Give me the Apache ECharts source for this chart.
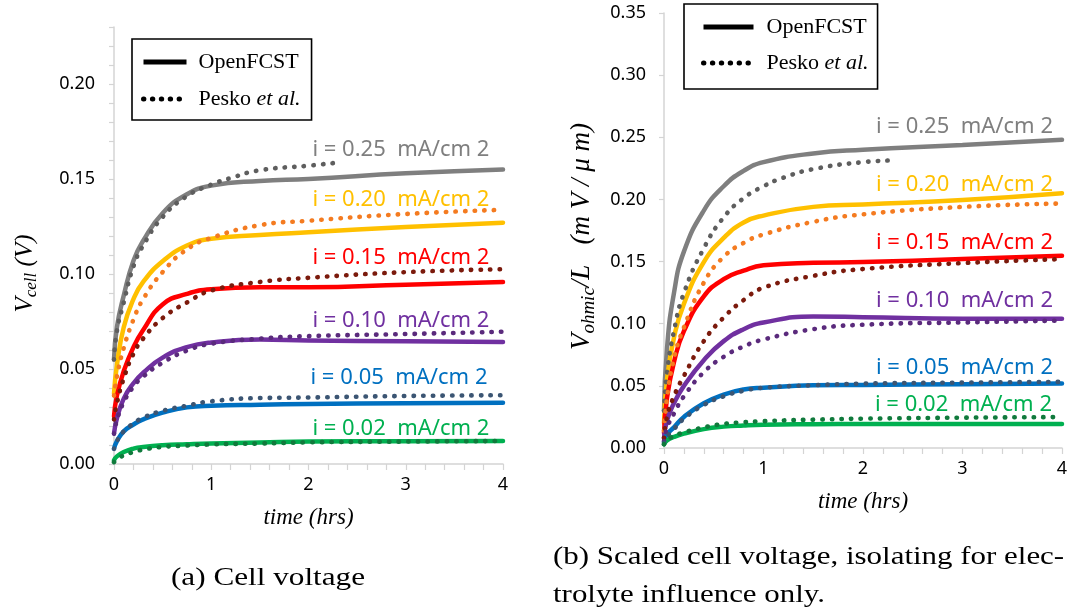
<!DOCTYPE html>
<html><head><meta charset="utf-8">
<script src="https://cdn.jsdelivr.net/npm/echarts@6/dist/echarts.min.js"></script>
<style>html,body{margin:0;padding:0;background:#fff}#c{width:1075px;height:613px}</style>
</head><body><div id="c"></div>
<script>
// ---------- data ----------
const currents = ['0.25', '0.20', '0.15', '0.10', '0.05', '0.02'];
const seriesNames = ['OpenFCST', 'Pesko et al.'];

// (a) Cell voltage (V) vs time (hrs)
const tA = [0, 0.03, 0.1, 0.2, 0.3, 0.5, 0.75, 1, 1.5, 2, 3, 4];
const openA_025 = [0.055, 0.072, 0.0886, 0.107, 0.1175, 0.132, 0.142, 0.1465, 0.149, 0.150, 0.153, 0.155];
const openA_020 = [0.037, 0.052, 0.072, 0.0868, 0.0958, 0.1067, 0.115, 0.1185, 0.1205, 0.122, 0.1248, 0.127];
const openA_015 = [0.025, 0.036, 0.0488, 0.0615, 0.0705, 0.084, 0.0895, 0.092, 0.093, 0.093, 0.0944, 0.0958];
const openA_010 = [0.016, 0.024, 0.0344, 0.0425, 0.048, 0.056, 0.0615, 0.064, 0.0655, 0.065, 0.0646, 0.0642];
const openA_005 = [0.008, 0.012, 0.0172, 0.0208, 0.0235, 0.027, 0.0298, 0.0307, 0.0312, 0.0316, 0.032, 0.0322];
const openA_002 = [0.002, 0.004, 0.0063, 0.0081, 0.009, 0.0099, 0.0104, 0.0108, 0.0113, 0.0118, 0.012, 0.0121];

const tB = [0, 0.03, 0.1, 0.2, 0.3, 0.5, 0.75, 1, 1.2, 1.5, 2, 2.33];
const peskoA_025 = [0.055, 0.07, 0.085, 0.104, 0.115, 0.130, 0.141, 0.147, 0.1505, 0.1546, 0.157, 0.1588];
const tB2 = [0, 0.03, 0.1, 0.2, 0.3, 0.5, 0.75, 1, 1.5, 2, 3, 4];
const peskoA_020 = [0.036, 0.046, 0.061, 0.076, 0.0868, 0.101, 0.113, 0.119, 0.1257, 0.128, 0.1316, 0.1338];
const peskoA_015 = [0.0235, 0.032, 0.045, 0.058, 0.066, 0.0768, 0.085, 0.0913, 0.0958, 0.098, 0.101, 0.1025];
const peskoA_010 = [0.016, 0.023, 0.0325, 0.0407, 0.046, 0.0533, 0.0597, 0.0633, 0.066, 0.0673, 0.0684, 0.0696];
const peskoA_005 = [0.008, 0.012, 0.0172, 0.0213, 0.0244, 0.028, 0.0307, 0.033, 0.0347, 0.035, 0.0358, 0.0362];
const peskoA_002 = [0.001, 0.0025, 0.0045, 0.0063, 0.0076, 0.009, 0.0097, 0.0103, 0.0108, 0.0114, 0.0118, 0.0121];

// (b) Scaled cell voltage (mV/um) vs time (hrs)
const tC = [0, 0.03, 0.1, 0.2, 0.4, 0.6, 0.8, 1, 1.5, 2, 3, 4];
const openB_025 = [0.03, 0.08, 0.1247, 0.158, 0.191, 0.2106, 0.223, 0.230, 0.237, 0.240, 0.2438, 0.248];
const openB_020 = [0.02, 0.055, 0.0887, 0.116, 0.1496, 0.169, 0.1815, 0.187, 0.194, 0.196, 0.1995, 0.205];
const openB_015 = [0.012, 0.04, 0.069, 0.094, 0.122, 0.1358, 0.1427, 0.147, 0.149, 0.1496, 0.152, 0.1546];
const openB_010 = [0.008, 0.022, 0.036, 0.05, 0.0707, 0.086, 0.0956, 0.101, 0.1058, 0.1053, 0.104, 0.1039];
const openB_005 = [0.005, 0.011, 0.0166, 0.025, 0.036, 0.043, 0.0471, 0.0485, 0.0504, 0.0507, 0.0513, 0.0518];
const openB_002 = [0.003, 0.006, 0.0089, 0.0116, 0.0152, 0.0172, 0.0182, 0.0188, 0.0192, 0.0194, 0.0194, 0.0194];

const tD = [0, 0.03, 0.1, 0.2, 0.4, 0.6, 0.8, 1, 1.2, 1.5, 2, 2.33];
const peskoB_025 = [0.03, 0.06, 0.094, 0.1247, 0.1607, 0.1856, 0.201, 0.2106, 0.2175, 0.2244, 0.230, 0.2314];
const peskoB_020 = [0.014, 0.04, 0.072, 0.097, 0.133, 0.1538, 0.165, 0.1718, 0.182, 0.188, 0.194, 0.1967];
const peskoB_015 = [0.008, 0.025, 0.0416, 0.058, 0.086, 0.105, 0.119, 0.129, 0.1385, 0.144, 0.1488, 0.152];
const peskoB_010 = [0.0055, 0.016, 0.0277, 0.0416, 0.061, 0.0734, 0.0817, 0.0873, 0.0956, 0.0992, 0.101, 0.1025];
const peskoB_005 = [0.004, 0.009, 0.0152, 0.0236, 0.0346, 0.0416, 0.046, 0.0485, 0.0505, 0.0518, 0.0526, 0.0532];
const peskoB_002 = [0.003, 0.006, 0.0097, 0.0125, 0.0166, 0.0194, 0.0207, 0.0216, 0.0228, 0.0236, 0.0244, 0.0249];

// curve labels: anchor (time, value) of each label's left-middle point
const labelTexts = currents.map(c => 'i = ' + c + '  mA/cm 2');
const labelXA = [2.04, 2.04, 2.04, 2.04, 2.02, 2.04];
const labelYA = [0.1653, 0.139, 0.1084, 0.0752, 0.0455, 0.0184];
const labelXB = [2.13, 2.13, 2.13, 2.13, 2.13, 2.12];
const labelYB = [0.2583, 0.2118, 0.1653, 0.1187, 0.0644, 0.0346];

// ---------- styling ----------
const solidColors = ['#7f7f7f', '#ffc000', '#ff0000', '#7030a0', '#0070c0', '#00b050'];
const dotColors = ['#5e5e5e', '#f47b20', '#7b1a0c', '#5a2a7c', '#3b5573', '#107a3c'];
const AX = '#d4d4d4';
const SERIF = '"Liberation Serif", "DejaVu Serif", serif';
const SANS = '"Noto Sans", "Open Sans", sans-serif';

const zip = (t, v) => t.map((x, i) => [x, v[i]]);
const openA = [openA_025, openA_020, openA_015, openA_010, openA_005, openA_002];
const peskoA = [peskoA_025, peskoA_020, peskoA_015, peskoA_010, peskoA_005, peskoA_002];
const peskoAT = [tB, tB2, tB2, tB2, tB2, tB2];
const openB = [openB_025, openB_020, openB_015, openB_010, openB_005, openB_002];
const peskoB = [peskoB_025, peskoB_020, peskoB_015, peskoB_010, peskoB_005, peskoB_002];
const peskoBT = [tD, tC, tC, tC, tC, tC];

const SOLID_W = 4.5, DOT_W = 4.6, DOT_PATTERN = [0.4, 9.2];

function solid(gi, i, data) {
  return { type: 'line', xAxisIndex: gi, yAxisIndex: gi, data, smooth: 0.5,
    symbol: 'none', silent: true, lineStyle: { color: solidColors[i], width: SOLID_W, cap: 'round', join: 'round' }, z: 2 };
}
function dotted(gi, i, data) {
  return { type: 'line', xAxisIndex: gi, yAxisIndex: gi, data, smooth: 0.5,
    symbol: 'none', silent: true, lineStyle: { color: dotColors[i], width: DOT_W, type: DOT_PATTERN, cap: 'round' }, z: 3 };
}

const series = [];
for (let i = 0; i < 6; i++) series.push(solid(0, i, zip(tA, openA[i])));
for (let i = 0; i < 6; i++) series.push(dotted(0, i, zip(peskoAT[i], peskoA[i])));
for (let i = 0; i < 6; i++) series.push(solid(1, i, zip(tC, openB[i])));
for (let i = 0; i < 6; i++) series.push(dotted(1, i, zip(peskoBT[i], peskoB[i])));
// legend entries (black keys)
series.push({ type: 'line', name: seriesNames[0], xAxisIndex: 0, yAxisIndex: 0, data: [], symbol: 'none',
  itemStyle: { color: '#000', opacity: 0 }, lineStyle: { color: '#000', width: 5 } });
series.push({ type: 'line', name: seriesNames[1], xAxisIndex: 0, yAxisIndex: 0, data: [], symbol: 'none',
  itemStyle: { color: '#000', opacity: 0 }, lineStyle: { color: '#000', width: 5, type: [0.4, 8.5], cap: 'round' } });

function xAxis(gi) {
  return { type: 'value', gridIndex: gi, min: 0, max: 4, interval: 0.2,
    name: 'time (hrs)', nameLocation: 'middle', nameGap: 42,
    nameTextStyle: { fontFamily: SERIF, fontStyle: 'italic', fontSize: 23, color: '#000' },
    axisLine: { show: true, lineStyle: { color: AX, width: 1.5 } },
    axisTick: { show: true, length: 6, lineStyle: { color: AX, width: 1.2 } },
    splitLine: { show: false },
    axisLabel: { margin: 12, fontFamily: SANS, fontSize: 18, color: '#000',
      formatter: v => Math.abs(v - Math.round(v)) < 1e-6 ? String(Math.round(v)) : '' } };
}
const legendBase = {
  orient: 'vertical', itemGap: 11, itemHeight: 14, borderColor: '#000', borderWidth: 1.6,
  backgroundColor: '#fff', selectedMode: false, data: seriesNames,
  itemStyle: { opacity: 0 },
  lineStyle: { width: 'inherit', type: 'inherit', cap: 'inherit', opacity: 1 },
  formatter: n => n === 'Pesko et al.' ? 'Pesko {i|et al.}' : n,
  textStyle: { fontFamily: SERIF, fontSize: 22, color: '#000', lineHeight: 26, padding: [0, 0, 0, 7],
    rich: { i: { fontFamily: SERIF, fontSize: 22, fontStyle: 'italic', color: '#000' } } }
};

const option = {
  animation: false,
  backgroundColor: '#fff',
  grid: [
    { left: 114, top: 27, width: 389, height: 437 },
    { left: 664, top: 13, width: 398, height: 435 }
  ],
  xAxis: [xAxis(0), xAxis(1)],
  yAxis: [
    { type: 'value', gridIndex: 0, min: 0, max: 0.23, interval: 0.01,
      name: '{v|V}{s|cell}{v| (V)}', nameLocation: 'middle', nameGap: 74,
      nameTextStyle: { padding: [0, 56, 0, 0], rich: {
        v: { fontFamily: SERIF, fontStyle: 'italic', fontSize: 25, color: '#000' },
        s: { fontFamily: SERIF, fontStyle: 'italic', fontSize: 17, color: '#000', padding: [12, 0, 0, 0] } } },
      axisLine: { show: true, lineStyle: { color: AX, width: 1.5 } },
      axisTick: { show: true, length: 5, lineStyle: { color: AX, width: 1.2 } },
      splitLine: { show: false },
      axisLabel: { margin: 19, fontFamily: SANS, fontSize: 18, color: '#000',
        formatter: v => Math.round(v * 100) % 5 === 0 ? v.toFixed(2) : '' } },
    { type: 'value', gridIndex: 1, min: 0, max: 0.35, interval: 0.05,
      name: '{v|V}{s|ohmic}{v|/L   (m V / μ m)}', nameLocation: 'middle', nameGap: 66,
      nameTextStyle: { padding: [0, 12, 0, 0], rich: {
        v: { fontFamily: SERIF, fontStyle: 'italic', fontSize: 27, color: '#000' },
        s: { fontFamily: SERIF, fontStyle: 'italic', fontSize: 19, color: '#000', padding: [13, 0, 0, 0] } } },
      axisLine: { show: true, lineStyle: { color: AX, width: 1.5 } },
      axisTick: { show: true, length: 5, lineStyle: { color: AX, width: 1.2 } },
      splitLine: { show: false },
      axisLabel: { margin: 18, fontFamily: SANS, fontSize: 18, color: '#000', formatter: v => v.toFixed(2) } }
  ],
  legend: [
    Object.assign({}, legendBase, { left: 132, top: 39, itemWidth: 43, padding: [10, 11, 8, 9] }),
    Object.assign({}, legendBase, { left: 684, top: 4, itemWidth: 50, itemGap: 10, padding: [10, 9, 13, 17],
      textStyle: Object.assign({}, legendBase.textStyle, { padding: [0, 0, 0, 8] }) })
  ],
  series
};

const chart = echarts.init(document.getElementById('c'), null, { renderer: 'canvas' });
chart.setOption(option);

// curve labels + captions
const graphics = [];
function addLabels(gi, xs, ys) {
  for (let i = 0; i < 6; i++) {
    const p = chart.convertToPixel({ gridIndex: gi }, [xs[i], ys[i]]);
    graphics.push({ type: 'text', x: p[0], y: p[1], z: 10, silent: true,
      style: { text: labelTexts[i], fill: solidColors[i], font: '22px ' + SANS,
        textAlign: 'left', textVerticalAlign: 'middle' } });
  }
}
addLabels(0, labelXA, labelYA);
addLabels(1, labelXB, labelYB);
const capFont = '26px ' + SERIF;
graphics.push({ type: 'text', x: 268, y: 578, scaleX: 1.2, silent: true,
  style: { text: '(a) Cell voltage', fill: '#000', font: capFont, textAlign: 'center', textVerticalAlign: 'middle' } });
graphics.push({ type: 'text', x: 553, y: 557, scaleX: 1.19, silent: true,
  style: { text: '(b) Scaled cell voltage, isolating for elec-', fill: '#000', font: capFont, textAlign: 'left', textVerticalAlign: 'middle' } });
graphics.push({ type: 'text', x: 553, y: 595, scaleX: 1.19, silent: true,
  style: { text: 'trolyte influence only.', fill: '#000', font: capFont, textAlign: 'left', textVerticalAlign: 'middle' } });
chart.setOption({ graphic: graphics });
</script>
</body></html>
